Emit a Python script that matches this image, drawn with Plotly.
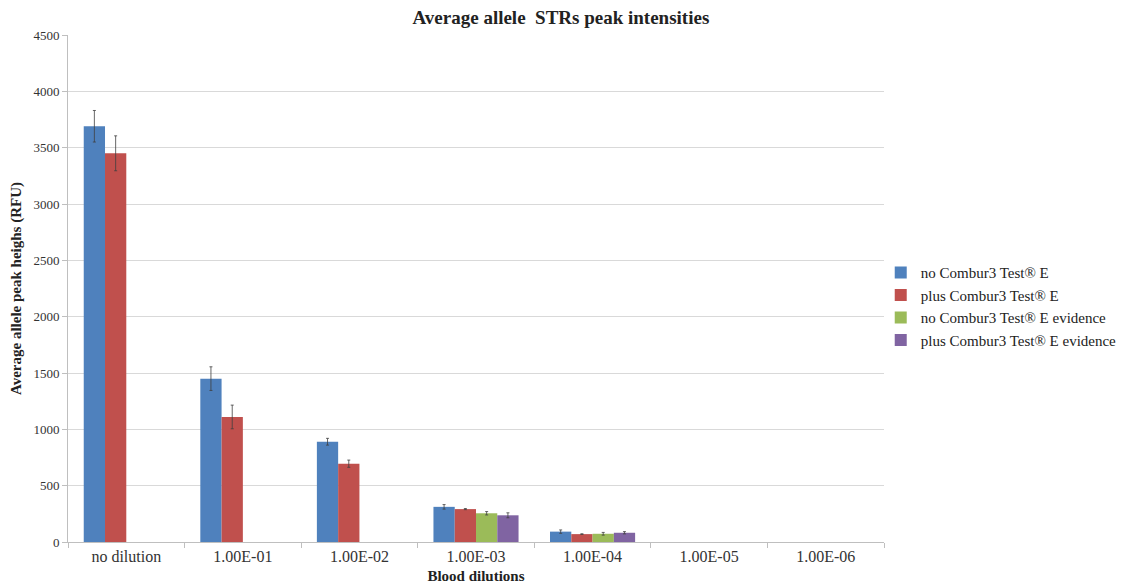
import plotly.graph_objects as go

categories = ["no dilution", "1.00E-01", "1.00E-02", "1.00E-03", "1.00E-04", "1.00E-05", "1.00E-06"]

no_combur = [3690, 1450, 890, 312, 92, None, None]
no_combur_err = [140, 105, 30, 20, 15, 0, 0]

plus_combur = [3450, 1110, 695, 292, 70, None, None]
plus_combur_err = [155, 105, 32, 5, 3, 0, 0]

no_combur_ev = [None, None, None, 255, 73, None, None]
no_combur_ev_err = [0, 0, 0, 15, 12, 0, 0]

plus_combur_ev = [None, None, None, 237, 82, None, None]
plus_combur_ev_err = [0, 0, 0, 22, 10, 0, 0]

series_names = ["no Combur3 Test® E", "plus Combur3 Test® E",
                "no Combur3 Test® E evidence", "plus Combur3 Test® E evidence"]
series_values = [no_combur, plus_combur, no_combur_ev, plus_combur_ev]
series_errs = [no_combur_err, plus_combur_err, no_combur_ev_err, plus_combur_ev_err]
colors = ["#4F81BD", "#C0504D", "#9BBB59", "#8064A2"]

font_family = "Liberation Serif"

fig = go.Figure()
for name, vals, errs, col in zip(series_names, series_values, series_errs, colors):
    fig.add_trace(go.Bar(
        x=categories, y=vals, name=name, marker=dict(color=col, line=dict(width=0)),
        error_y=dict(type="data", array=errs, visible=True, color="#404040", thickness=0.8, width=1.5),
    ))

fig.update_layout(
    width=1133, height=586,
    paper_bgcolor="white", plot_bgcolor="white",
    barmode="group", bargap=0.27, bargroupgap=0,
    margin=dict(l=60, r=257, t=27, b=52, autoexpand=False),
    font=dict(family=font_family, size=13, color="#333333"),
    title=dict(text="<b>Average allele  STRs peak intensities</b>", x=0.488, xanchor="center",
               y=0.984, yanchor="middle", font=dict(size=19, color="#222222", family=font_family)),
    legend=dict(x=0.996, xanchor="left", y=0.465, yanchor="middle",
                font=dict(size=15, color="#222222", family=font_family),
                itemwidth=30, tracegroupgap=0, bgcolor="rgba(0,0,0,0)"),
    showlegend=True,
)
fig.update_xaxes(
    type="category", showline=True, linecolor="#BFBFBF", linewidth=1,
    ticks="outside", tickson="boundaries", ticklen=5, tickcolor="#BFBFBF",
    showgrid=False, automargin=False,
    tickfont=dict(size=16, color="#333333", family=font_family),
    title=dict(text="<b>Blood dilutions</b>", standoff=6,
               font=dict(size=15, color="#222222", family=font_family)),
)
fig.update_yaxes(
    range=[0, 4500], dtick=500, showline=True, linecolor="#BFBFBF", linewidth=1,
    ticks="outside", ticklen=5, tickcolor="#BFBFBF",
    showgrid=True, gridcolor="#D9D9D9", gridwidth=1, zeroline=False, automargin=False,
    tickfont=dict(size=13, color="#333333", family=font_family),
    title=dict(text="<b>Average allele peak heighs (RFU)</b>", standoff=8,
               font=dict(size=15, color="#222222", family=font_family)),
)

fig.write_html("out.html")
